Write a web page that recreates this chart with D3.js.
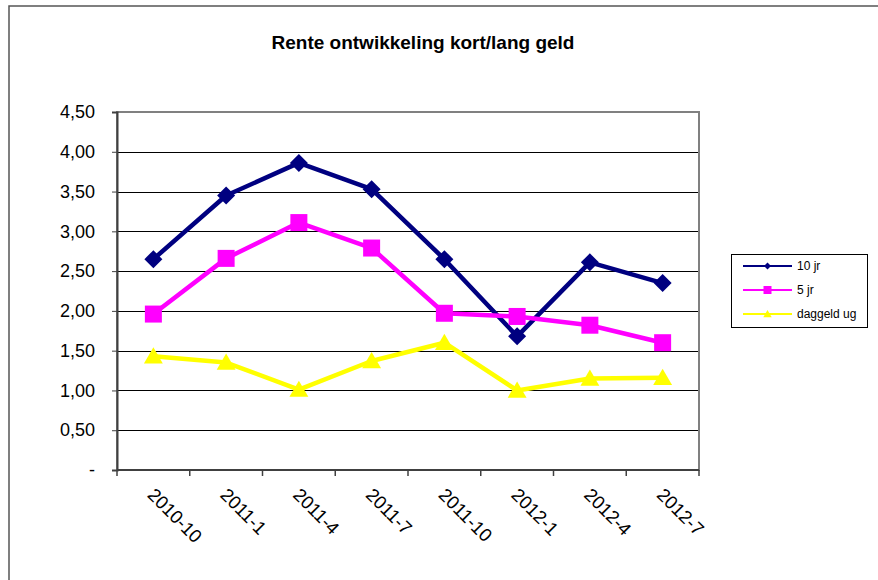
<!DOCTYPE html>
<html>
<head>
<meta charset="utf-8">
<script src="https://cdn.jsdelivr.net/npm/d3@7"></script>
<style>
  html, body { margin: 0; padding: 0; background: #fff; }
  svg { display: block; font-family: "Liberation Sans", Arial, sans-serif; }
</style>
</head>
<body>
<svg id="chart" width="878" height="580"></svg>
<script>
const title = "Rente ontwikkeling kort/lang geld";
const categories = ["2010-10", "2011-1", "2011-4", "2011-7", "2011-10", "2012-1", "2012-4", "2012-7"];
const seriesNames = ["10 jr", "5 jr", "daggeld ug"];
const tienJr   = [2.65, 3.45, 3.86, 3.53, 2.65, 1.68, 2.61, 2.35];
const vijfJr   = [1.96, 2.66, 3.11, 2.79, 1.97, 1.93, 1.82, 1.60];
const daggeld  = [1.43, 1.35, 1.01, 1.37, 1.60, 1.00, 1.15, 1.16];
const yTicks = [0, 0.5, 1, 1.5, 2, 2.5, 3, 3.5, 4, 4.5];
const yTickLabels = ["-", "0,50", "1,00", "1,50", "2,00", "2,50", "3,00", "3,50", "4,00", "4,50"];

const colors = ["#000080", "#FF00FF", "#FFFF00"];
const markers = ["diamond", "square", "triangle"];
const seriesData = [tienJr, vijfJr, daggeld];

const svg = d3.select("#chart");
const plot = { left: 117, right: 699, top: 112, bottom: 470 };

// outer chart border
svg.append("path")
  .attr("d", `M9,600 L9,6 L900,6`)
  .attr("fill", "none").attr("stroke", "#555").attr("stroke-width", 1.5);

// title
svg.append("text")
  .attr("x", 423).attr("y", 49)
  .attr("text-anchor", "middle")
  .attr("font-weight", "bold").attr("font-size", 19)
  .text(title);

const x = d3.scaleBand().domain(categories).range([plot.left, plot.right]).padding(0);
const y = d3.scaleLinear().domain([0, 4.5]).range([plot.bottom, plot.top]);

// gridlines
svg.append("g").selectAll("line").data(yTicks.filter(v => v > 0 && v < 4.5)).join("line")
  .attr("x1", plot.left).attr("x2", plot.right)
  .attr("y1", d => Math.round(y(d)) + 0.5).attr("y2", d => Math.round(y(d)) + 0.5)
  .attr("stroke", "#000").attr("stroke-width", 1);

// plot border (gray)
svg.append("rect")
  .attr("x", plot.left).attr("y", plot.top)
  .attr("width", plot.right - plot.left).attr("height", plot.bottom - plot.top)
  .attr("fill", "none").attr("stroke", "#808080").attr("stroke-width", 2);

// y axis
const yAxis = d3.axisLeft(y).tickValues(yTicks)
  .tickFormat((d, i) => yTickLabels[i]).tickSize(5).tickPadding(17);
const gy = svg.append("g").attr("transform", `translate(${plot.left},0)`).call(yAxis);
gy.select(".domain").attr("stroke", "#404040").attr("stroke-width", 2);
gy.selectAll(".tick line").attr("stroke", "#404040");
gy.selectAll(".tick text").attr("font-size", 18).attr("fill", "#000")
  .attr("font-family", "'Liberation Sans', Arial, sans-serif");

// x axis: ticks at category boundaries
const boundaries = categories.map(c => x(c)).concat([x(categories[categories.length - 1]) + x.bandwidth()]);
const gx = svg.append("g");
gx.append("line").attr("x1", plot.left).attr("x2", plot.right)
  .attr("y1", plot.bottom).attr("y2", plot.bottom)
  .attr("stroke", "#404040").attr("stroke-width", 2);
gx.selectAll("line.tk").data(boundaries).join("line").attr("class", "tk")
  .attr("x1", d => d).attr("x2", d => d)
  .attr("y1", plot.bottom).attr("y2", plot.bottom + 6)
  .attr("stroke", "#404040").attr("stroke-width", 1.5);
gx.selectAll("text").data(categories).join("text")
  .attr("transform", d => `translate(${x(d) + x.bandwidth() / 2 - 7},${plot.bottom + 26}) rotate(45)`)
  .attr("font-size", 18.5).attr("fill", "#000")
  .text(d => d);

// series
const line = d3.line().x((d, i) => x(categories[i]) + x.bandwidth() / 2).y(d => y(d));

function markerPath(type, s) {
  if (type === "diamond") return `M0,${-s} L${s},0 L0,${s} L${-s},0 Z`;
  if (type === "square") return `M${-s},${-s} H${s} V${s} H${-s} Z`;
  return `M0,${-s} L${s * 1.05},${s * 0.8} L${-s * 1.05},${s * 0.8} Z`;
}
const markerSize = [9, 8.5, 9];

seriesData.forEach((vals, si) => {
  const g = svg.append("g");
  g.append("path").datum(vals).attr("d", line)
    .attr("fill", "none").attr("stroke", colors[si]).attr("stroke-width", 4.5)
    .attr("stroke-linejoin", "round");
  g.selectAll("path.m").data(vals).join("path").attr("class", "m")
    .attr("transform", (d, i) => `translate(${x(categories[i]) + x.bandwidth() / 2},${y(d)})`)
    .attr("d", markerPath(markers[si], markerSize[si]))
    .attr("fill", colors[si]);
});

// legend
const lg = svg.append("g");
lg.append("rect").attr("x", 731.5).attr("y", 254.5).attr("width", 136).attr("height", 73)
  .attr("fill", "#fff").attr("stroke", "#000").attr("stroke-width", 1);
const legendY = [266, 290, 314];
const legendMarkerSize = [3.5, 4, 4];
seriesNames.forEach((name, si) => {
  lg.append("line").attr("x1", 743).attr("x2", 792)
    .attr("y1", legendY[si]).attr("y2", legendY[si])
    .attr("stroke", colors[si]).attr("stroke-width", 2);
  lg.append("path").attr("transform", `translate(767.5,${legendY[si]})`)
    .attr("d", markerPath(markers[si], legendMarkerSize[si])).attr("fill", colors[si]);
  lg.append("text").attr("x", 797).attr("y", legendY[si] + 4)
    .attr("font-size", 12).attr("fill", "#000").text(name);
});
</script>
</body>
</html>
